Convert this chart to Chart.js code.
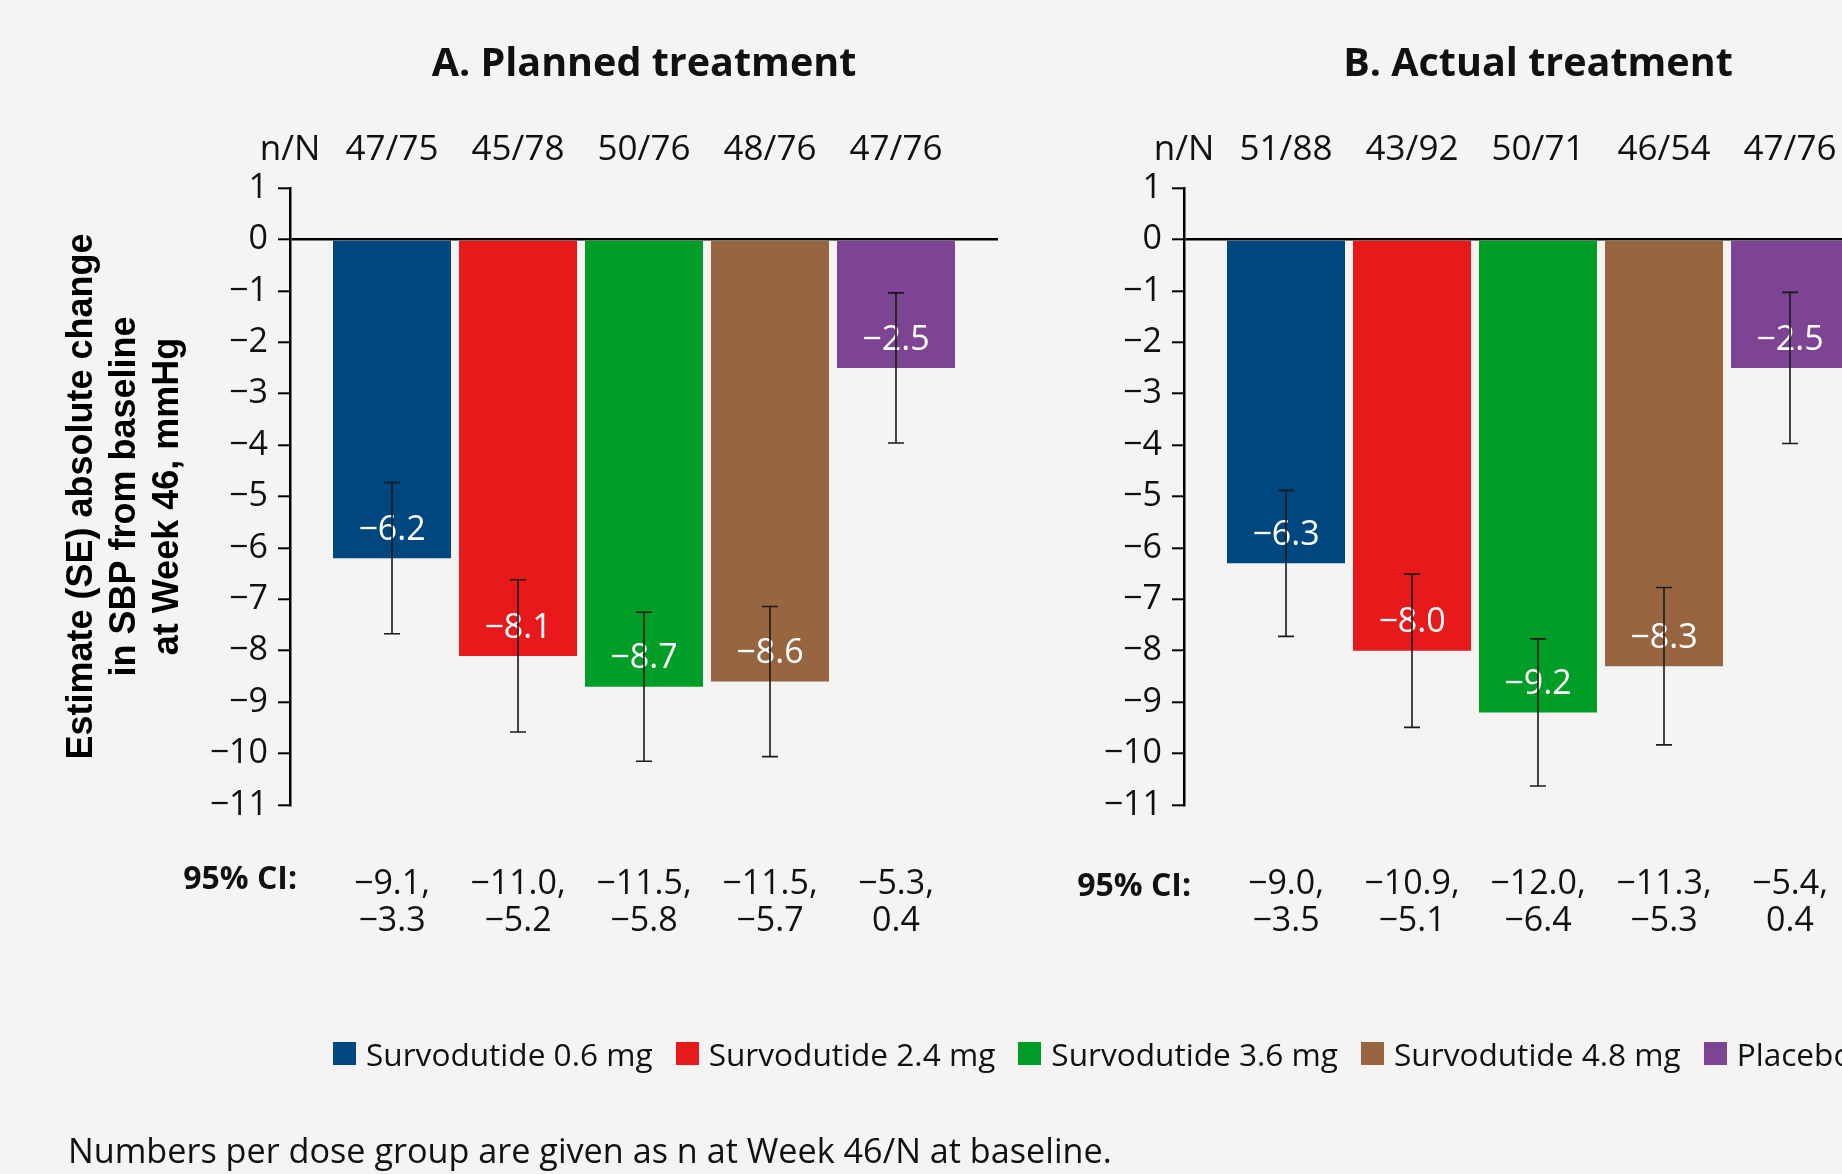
<!DOCTYPE html>
<html>
<head>
<meta charset="utf-8">
<title>Change in SBP from baseline at Week 46</title>
<script src="https://cdn.jsdelivr.net/npm/chart.js@4.4.1/dist/chart.umd.min.js"></script>
<style>
  html, body { margin: 0; padding: 0; }
  body {
    width: 1842px; height: 1174px; overflow: hidden; position: relative;
    background: #f5f4f2; color: #111; font-family: "Open Sans", Inter, sans-serif;
  }
  .panel { position: absolute; top: 0; }
  #legend {
    position: absolute; left: 333px; top: 1042px;
    display: flex; white-space: nowrap; font-size: 31.6px; line-height: 23px;
  }
  #legend .item { display: flex; align-items: center; margin-right: 23px; }
  #legend .swatch { width: 23px; height: 23px; margin-right: 10px; flex: none; }
  #note {
    position: absolute; left: 68px; top: 1133px; white-space: nowrap;
    font-size: 34.2px; line-height: 33.5px;
  }
</style>
</head>
<body>
<canvas id="planned" class="panel" width="1000" height="1174" style="left:0px"></canvas>
<canvas id="actual" class="panel" width="1000" height="1174" style="left:894px"></canvas>
<div id="legend"></div>
<div id="note">Numbers per dose group are given as n at Week 46/N at baseline.</div>

<script>
// Treatment groups and their colours
const groups = ['Survodutide 0.6 mg', 'Survodutide 2.4 mg', 'Survodutide 3.6 mg', 'Survodutide 4.8 mg', 'Placebo'];
const groupColors = ['#00467f', '#e8191b', '#009e27', '#976640', '#7e4494'];

// A. Planned treatment
const plannedEstimate = [-6.2, -8.1, -8.7, -8.6, -2.5];
const plannedSE       = [1.47, 1.48, 1.45, 1.46, 1.46];
const plannedCounts   = ['47/75', '45/78', '50/76', '48/76', '47/76'];
const plannedCILow    = [-9.1, -11.0, -11.5, -11.5, -5.3];
const plannedCIHigh   = [-3.3, -5.2, -5.8, -5.7, 0.4];

// B. Actual treatment
const actualEstimate = [-6.3, -8.0, -9.2, -8.3, -2.5];
const actualSE       = [1.42, 1.49, 1.43, 1.53, 1.47];
const actualCounts   = ['51/88', '43/92', '50/71', '46/54', '47/76'];
const actualCILow    = [-9.0, -10.9, -12.0, -11.3, -5.4];
const actualCIHigh   = [-3.5, -5.1, -6.4, -5.3, 0.4];

// Value axis
const yMin = -11;
const yMax = 1;
const yStep = 1;

const yTitle = ['Estimate (SE) absolute change', 'in SBP from baseline', 'at Week 46, mmHg'];

const MINUS = '\u2212';
const fmt1 = v => (v < 0 ? MINUS : '') + Math.abs(v).toFixed(1);
const fmtInt = v => (v < 0 ? MINUS : '') + Math.abs(v);

const FONT = '"Open Sans", Inter, sans-serif';

// Titles, n/N row, value labels, SE whiskers and 95% CI rows
const panelText = {
  id: 'panelText',
  afterDatasetsDraw(chart, args, opts) {
    const { ctx, chartArea, scales: { y } } = chart;
    ctx.save();
    ctx.textAlign = 'center';
    ctx.textBaseline = 'middle';

    chart.data.datasets.forEach((ds, i) => {
      const bar = chart.getDatasetMeta(i).data[0];
      const v = ds.data[0];
      // value label inside the bar, near its end
      ctx.fillStyle = '#ffffff';
      ctx.font = '400 34px ' + FONT;
      ctx.fillText(fmt1(v), bar.x, y.getPixelForValue(v) - 28);
      // ±SE whisker
      const yTop = y.getPixelForValue(v + ds.se);
      const yBot = y.getPixelForValue(v - ds.se);
      ctx.strokeStyle = '#1a1a1a';
      ctx.lineWidth = 1.6;
      ctx.beginPath();
      ctx.moveTo(bar.x, yTop); ctx.lineTo(bar.x, yBot);
      ctx.moveTo(bar.x - 8, yTop); ctx.lineTo(bar.x + 8, yTop);
      ctx.moveTo(bar.x - 8, yBot); ctx.lineTo(bar.x + 8, yBot);
      ctx.stroke();
    });

    const cx = (chartArea.left + chartArea.right) / 2;
    ctx.fillStyle = '#111';
    ctx.font = '700 39.5px ' + FONT;
    ctx.fillText(opts.title, cx, 65);

    // n/N header row
    ctx.font = '400 35px ' + FONT;
    ctx.fillText('n/N', chartArea.left, 150);
    chart.data.datasets.forEach((ds, i) => {
      const bar = chart.getDatasetMeta(i).data[0];
      ctx.fillText(opts.counts[i], bar.x, 150);
    });

    // 95% CI rows
    ctx.textAlign = 'right';
    ctx.font = '700 32px ' + FONT;
    ctx.fillText('95% CI:', chartArea.left + 7, opts.ciLabelY);
    ctx.textAlign = 'center';
    ctx.font = '400 34px ' + FONT;
    chart.data.datasets.forEach((ds, i) => {
      const bar = chart.getDatasetMeta(i).data[0];
      ctx.fillText(fmt1(opts.ciLow[i]) + ',', bar.x, 884);
      ctx.fillText(fmt1(opts.ciHigh[i]), bar.x, 921);
    });
    ctx.restore();
  }
};

function makePanel(id, title, estimate, se, counts, ciLow, ciHigh, showYTitle, ciLabelY) {
  const datasets = groups.map((g, i) => ({
    label: g,
    data: [estimate[i]],
    se: se[i],
    backgroundColor: groupColors[i],
    borderWidth: 0
  }));
  return new Chart(document.getElementById(id), {
    type: 'bar',
    data: { labels: [''], datasets },
    plugins: [panelText],
    options: {
      responsive: false,
      animation: false,
      devicePixelRatio: 1,
      layout: { padding: { left: 0, right: 2, top: 188, bottom: 369 } },
      datasets: { bar: { categoryPercentage: 0.8898, barPercentage: 0.9365 } },
      plugins: {
        legend: { display: false },
        tooltip: { enabled: false },
        panelText: { title, counts, ciLow, ciHigh, ciLabelY }
      },
      scales: {
        x: { type: 'category', display: false },
        y: {
          min: yMin, max: yMax,
          afterFit(scale) { scale.width = 290; },
          border: { display: true, color: '#000', width: 2.5 },
          grid: {
            drawOnChartArea: true,
            drawTicks: true,
            tickLength: 12,
            tickWidth: 2,
            tickColor: '#000',
            lineWidth: 2.6,
            color: c => (c.tick && c.tick.value === 0 ? '#000' : 'rgba(0,0,0,0)')
          },
          ticks: {
            stepSize: yStep,
            padding: 10,
            color: '#111',
            font: { family: FONT, size: 34 },
            callback: v => fmtInt(v)
          },
          title: {
            display: showYTitle,
            text: yTitle,
            color: '#000',
            font: { family: '"Liberation Sans", Arial, sans-serif', size: 36, weight: 'bold', lineHeight: 1.2 },
            padding: { top: 60, bottom: 0 }
          }
        }
      }
    }
  });
}

makePanel('planned', 'A. Planned treatment', plannedEstimate, plannedSE, plannedCounts,
          plannedCILow, plannedCIHigh, true, 880);
makePanel('actual', 'B. Actual treatment', actualEstimate, actualSE, actualCounts,
          actualCILow, actualCIHigh, false, 887);

// Shared legend below both panels
const legend = document.getElementById('legend');
groups.forEach((g, i) => {
  const item = document.createElement('div');
  item.className = 'item';
  const sw = document.createElement('span');
  sw.className = 'swatch';
  sw.style.background = groupColors[i];
  const tx = document.createElement('span');
  tx.textContent = g;
  item.appendChild(sw);
  item.appendChild(tx);
  legend.appendChild(item);
});
</script>
</body>
</html>
